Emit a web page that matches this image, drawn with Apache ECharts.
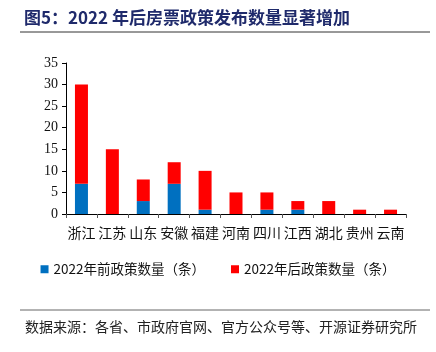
<!DOCTYPE html>
<html>
<head>
<meta charset="utf-8">
<script src="https://cdn.jsdelivr.net/npm/echarts@6/dist/echarts.min.js"></script>
<style>
  html, body { margin: 0; padding: 0; background: #fff; }
  #main { width: 436px; height: 352px; }
</style>
</head>
<body>
<div id="main"></div>
<script>
// 省份
var provinces = ['浙江', '江苏', '山东', '安徽', '福建', '河南', '四川', '江西', '湖北', '贵州', '云南']
// 2022年前 / 后 政策数量
var before2022 = [7, 0, 3, 7, 1, 0, 1, 1, 0, 0, 0]
var after2022 = [23, 15, 5, 5, 9, 5, 4, 2, 3, 1, 1]
var yTicks = [0, 5, 10, 15, 20, 25, 30, 35]

var chart = echarts.init(document.getElementById('main'))

var cjk = '"Noto Sans CJK SC", sans-serif'
var serif = '"Liberation Serif", "Times New Roman", serif'

var option = {
    backgroundColor: '#fff',
    animation: false,
    title: [{
        text: '图5：2022 年后房票政策发布数量显著增加',
        left: 19,
        top: 4,
        textStyle: { fontFamily: cjk, fontSize: 17, fontWeight: 'bold', color: '#1F2A6B' }
    }, {
        text: '数据来源：各省、市政府官网、官方公众号等、开源证券研究所',
        left: 20,
        top: 315,
        textStyle: { fontFamily: cjk, fontSize: 14, fontWeight: 'normal', color: '#222' }
    }],
    graphic: [
        { type: 'line', shape: { x1: 20, y1: 32, x2: 430, y2: 32 }, style: { stroke: '#333', lineWidth: 1 } },
        { type: 'line', shape: { x1: 20, y1: 310, x2: 430, y2: 310 }, style: { stroke: '#666', lineWidth: 1 } }
    ],
    legend: {
        bottom: 71,
        left: 'center',
        itemWidth: 8,
        itemHeight: 8,
        itemGap: 26,
        itemStyle: { borderWidth: 0 },
        icon: 'rect',
        textStyle: { fontFamily: cjk, fontSize: 13.5, color: '#111' },
        data: ['2022年前政策数量（条）', '2022年后政策数量（条）']
    },
    grid: { left: 66, right: 30, top: 63, bottom: 138 },
    xAxis: {
        type: 'category',
        data: provinces,
        axisLine: { lineStyle: { color: '#000', width: 1 } },
        axisTick: { show: true, inside: false, length: 4, lineStyle: { color: '#555' } },
        axisLabel: { fontFamily: cjk, fontSize: 14, color: '#111', margin: 12, interval: 0 }
    },
    yAxis: {
        type: 'value',
        min: 0,
        max: 35,
        interval: 5,
        splitLine: { show: false },
        axisLine: { show: true, lineStyle: { color: '#000' } },
        axisTick: { show: true, length: 4, lineStyle: { color: '#000' } },
        axisLabel: { fontFamily: serif, fontSize: 14, color: '#111', margin: 8 }
    },
    series: [{
        name: '2022年前政策数量（条）',
        type: 'bar',
        stack: 'total',
        barWidth: 13,
        itemStyle: { color: '#0070C0' },
        data: before2022
    }, {
        name: '2022年后政策数量（条）',
        type: 'bar',
        stack: 'total',
        barWidth: 13,
        itemStyle: { color: '#FF0000' },
        data: after2022
    }]
}

chart.setOption(option)
</script>
</body>
</html>
